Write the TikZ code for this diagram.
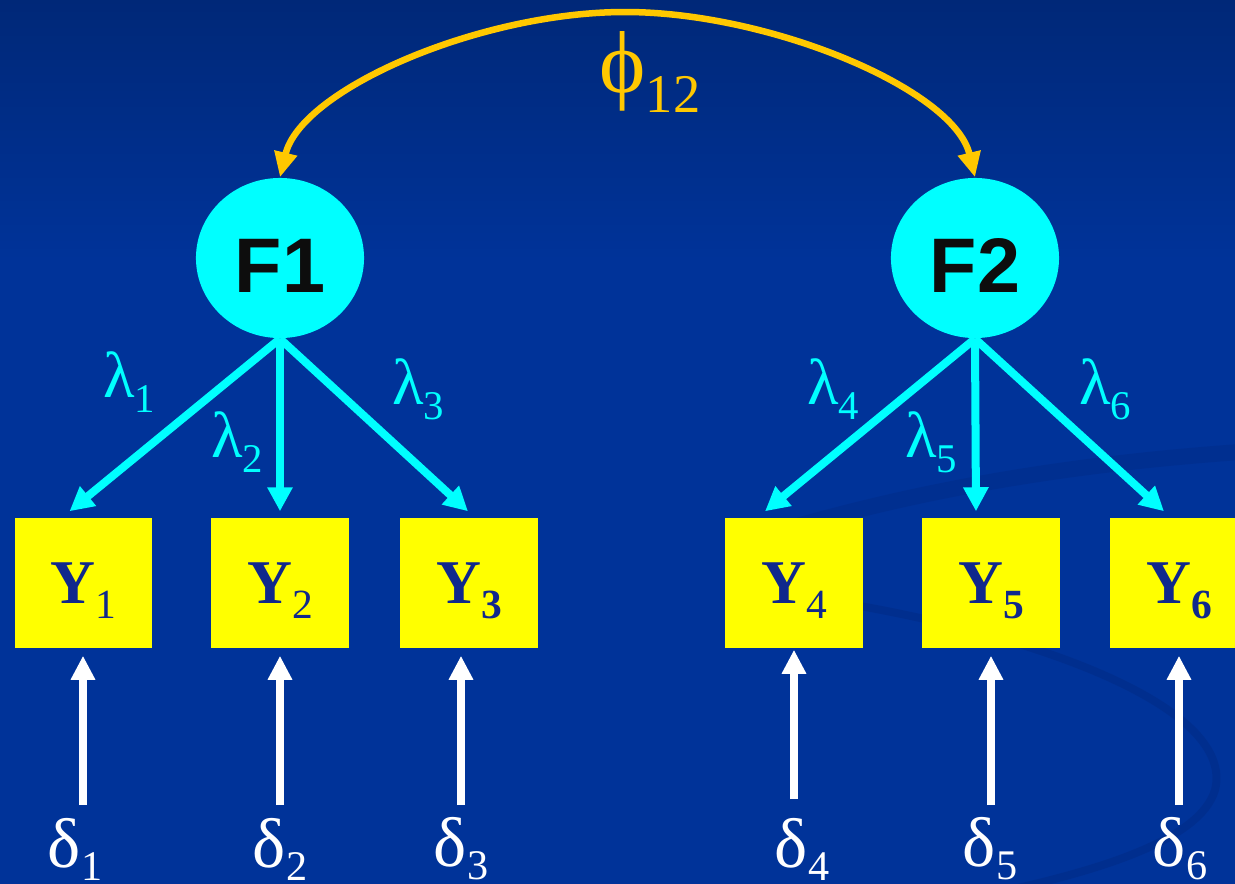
\documentclass[tikz,border=0pt]{standalone}
\usepackage{fontspec}
\setmainfont{Liberation Serif}
\newfontfamily\factorfont{Liberation Sans}
\usetikzlibrary{shapes.geometric,arrows.meta}

\definecolor{slideblue}{RGB}{0,51,153}
\definecolor{slidetop}{RGB}{0,40,120}
\definecolor{swirlblue}{RGB}{0,44,136}
\definecolor{loadcyan}{RGB}{0,255,255}
\definecolor{boxyellow}{RGB}{255,255,0}
\definecolor{ynavy}{RGB}{16,40,140}
\definecolor{phigold}{RGB}{255,200,0}

\newcommand{\lowsub}[3]{\raisebox{-#1}{\fontsize{#2}{#2}\selectfont #3}}

\tikzset{
  factor/.style={ellipse, fill=loadcyan, minimum width=1.68cm, minimum height=1.6cm,
    inner sep=0pt, text=black!95, font=\factorfont\bfseries\fontsize{22pt}{22pt}\selectfont,
    text height=19.5pt, text depth=0pt},
  ybox/.style={rectangle, fill=boxyellow, minimum width=1.37cm, minimum height=1.30cm,
    inner sep=0pt, text=ynavy, font=\bfseries\fontsize{17.7pt}{17.7pt}\selectfont,
    text height=16pt, text depth=4.5pt},
  load/.style={draw=loadcyan, line width=0.08cm, -{Triangle[length=0.24cm, width=0.24cm]}},
  err/.style={draw=white, line width=0.075cm, shorten >=0.07cm, -{Triangle[length=0.24cm, width=0.23cm]}},
  corr/.style={draw=phigold, line width=0.065cm,
    {Triangle[length=0.25cm, width=0.22cm]}-{Triangle[length=0.25cm, width=0.22cm]}},
  lam/.style={text=loadcyan, inner sep=0pt, font=\fontsize{18.5pt}{18.5pt}\selectfont},
  del/.style={text=white, inner sep=0pt, font=\fontsize{20pt}{20pt}\selectfont},
}

\begin{document}
\begin{tikzpicture}[x=0.01cm, y=-0.01cm]

  \useasboundingbox (0,0) rectangle (1235,884);
  \clip (0,0) rectangle (1235,884);

  % slide background
  \fill [slideblue] (0,0) rectangle (1235,884);
  \shade [top color=slidetop, bottom color=slideblue] (0,0) rectangle (1235,260);
  \draw [swirlblue, line width=0.16cm, opacity=0.5] (790,528) .. controls (950,482) and (1100,462) .. (1240,452);
  \draw [swirlblue, line width=0.08cm, opacity=0.6] (860,606) .. controls (1050,640) and (1235,710) .. (1215,790)
        .. controls (1200,840) and (1100,870) .. (1000,892);

  % factors
  \node [factor] (F1) at (280,258) {F1};
  \node [factor] (F2) at (975,258) {F2};

  % indicators
  \node [ybox] (Y1) at (83.5,583) {Y\lowsub{4.3pt}{11.8pt}{\mdseries 1}};
  \node [ybox] (Y2) at (280,583) {Y\lowsub{4.3pt}{11.8pt}{\mdseries 2}};
  \node [ybox] (Y3) at (469,583) {Y\lowsub{4.3pt}{11.8pt}{3}};
  \node [ybox] (Y4) at (794,583) {Y\lowsub{4.3pt}{11.8pt}{\mdseries 4}};
  \node [ybox] (Y5) at (991,583) {Y\lowsub{4.3pt}{11.8pt}{5}};
  \node [ybox] (Y6) at (1179,583) {Y\lowsub{4.3pt}{11.8pt}{6}};

  % loadings
  \draw [load] (F1.south) -- ([shift={(-14,-6)}]Y1.north);
  \draw [load] (F1.south) -- ([shift={(0,-6)}]Y2.north);
  \draw [load] (F1.south) -- ([shift={(-1,-6)}]Y3.north);
  \draw [load] (F2.south) -- ([shift={(-29,-6)}]Y4.north);
  \draw [load] (F2.south) -- ([shift={(-15,-6)}]Y5.north);
  \draw [load] (F2.south) -- ([shift={(-15,-6)}]Y6.north);

  \node [lam] (l1) at (129,382) {λ\lowsub{4.3pt}{11.6pt}{1}};
  \node [lam] (l2) at (237,442) {λ\lowsub{4.3pt}{11.6pt}{2}};
  \node [lam] (l3) at (418,389) {λ\lowsub{4.3pt}{11.6pt}{3}};
  \node [lam] (l4) at (833,389) {λ\lowsub{4.3pt}{11.6pt}{4}};
  \node [lam] (l5) at (931,442) {λ\lowsub{4.3pt}{11.6pt}{5}};
  \node [lam] (l6) at (1105,389) {λ\lowsub{4.3pt}{11.6pt}{6}};

  % errors
  \coordinate (e1) at (83,805);
  \coordinate (e2) at (280,805);
  \coordinate (e3) at (461,805);
  \coordinate (e4) at (794,799);
  \coordinate (e5) at (991,805);
  \coordinate (e6) at (1179,805);

  \draw [err] (e1) -- (e1 |- Y1.south);
  \draw [err] (e2) -- (e2 |- Y2.south);
  \draw [err] (e3) -- (e3 |- Y3.south);
  \draw [err, shorten >=0.01cm] (e4) -- (e4 |- Y4.south);
  \draw [err] (e5) -- (e5 |- Y5.south);
  \draw [err] (e6) -- (e6 |- Y6.south);

  \node [del] (d1) at (75,849) {δ\lowsub{3.7pt}{12pt}{1}};
  \node [del] (d2) at (280,849) {δ\lowsub{3.7pt}{12pt}{2}};
  \node [del] (d3) at (461,849) {δ\lowsub{3.7pt}{12pt}{3}};
  \node [del] (d4) at (802,849) {δ\lowsub{3.7pt}{12pt}{4}};
  \node [del] (d5) at (990,849) {δ\lowsub{3.7pt}{12pt}{5}};
  \node [del] (d6) at (1180,849) {δ\lowsub{3.7pt}{12pt}{6}};

  % factor covariance
  \coordinate (top) at (625,12);
  \draw [corr] (F1.north) .. controls +(21,-88) and +(-145,0) .. (top)
        .. controls +(145,0) and +(-21,-88) .. (F2.north);
  \node [text=phigold, inner sep=0pt, font=\fontsize{25pt}{25pt}\selectfont] (phi) at (650,72)
        {ϕ\lowsub{5.7pt}{15.5pt}{12}};

\end{tikzpicture}
\end{document}
